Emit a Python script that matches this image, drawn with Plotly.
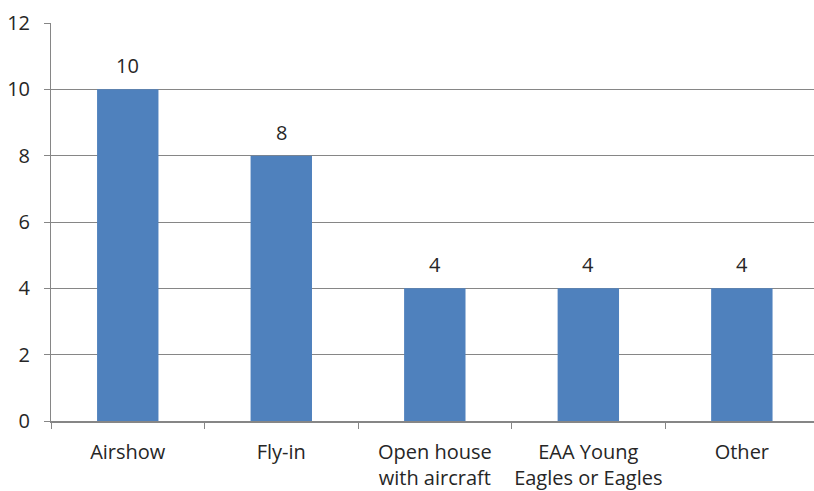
import plotly.graph_objects as go

# Event categories and counts
categories = ["Airshow", "Fly-in", "Open house<br>with aircraft",
              "EAA Young<br>Eagles or Eagles", "Other"]
counts = [10, 8, 4, 4, 4]
y_ticks = [0, 2, 4, 6, 8, 10, 12]

bar_color = "#4F81BD"
grid_color = "#868686"
text_color = "#262626"
font_family = "'Open Sans', Lato, sans-serif"
font_size = 20

fig = go.Figure()
fig.add_trace(go.Bar(
    x=categories,
    y=counts,
    marker=dict(color=bar_color, line=dict(width=0)),
    width=0.4,
    hoverinfo="skip",
))

# Value labels above each bar
for cat, val in zip(categories, counts):
    fig.add_annotation(
        x=cat, y=val, text=str(val), showarrow=False,
        yanchor="bottom", yshift=8,
        font=dict(family=font_family, size=font_size, color=text_color),
    )

fig.update_layout(
    width=814, height=491,
    margin=dict(l=51, r=0, t=23, b=70),
    paper_bgcolor="white",
    plot_bgcolor="white",
    showlegend=False,
    font=dict(family=font_family, size=font_size, color=text_color),
)

fig.update_xaxes(
    type="category",
    range=[-0.5, 4.47],
    automargin=False,
    tickangle=0,
    showline=True, linecolor=grid_color, linewidth=2,
    ticks="outside", tickson="boundaries", ticklen=6,
    tickcolor=grid_color, tickwidth=1,
    showgrid=False,
    ticklabelstandoff=12,
    tickfont=dict(family=font_family, size=font_size, color=text_color),
)

fig.update_yaxes(
    range=[0, 12],
    tickvals=y_ticks,
    automargin=False,
    showline=True, linecolor=grid_color, linewidth=1,
    ticks="outside", ticklen=6, tickcolor=grid_color, tickwidth=1,
    showgrid=True, gridcolor=grid_color, gridwidth=1,
    zeroline=False,
    ticklabelstandoff=10,
    tickfont=dict(family=font_family, size=font_size, color=text_color),
)

fig.write_html("out.html")
